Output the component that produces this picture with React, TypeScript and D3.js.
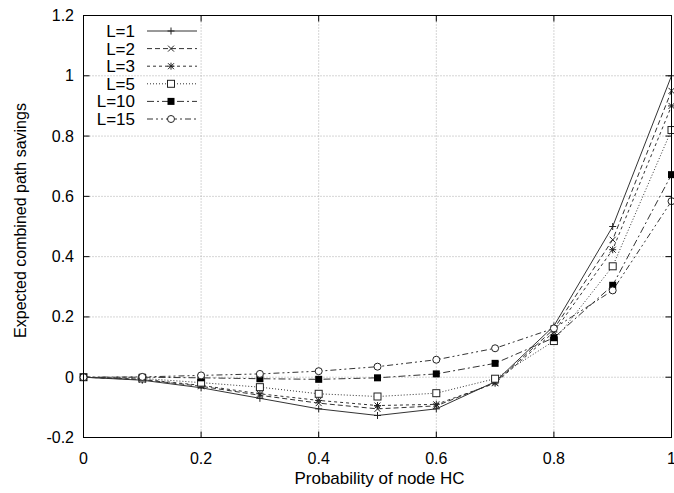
import React, { useRef, useEffect } from 'react';
import * as d3 from 'd3';

// probability values on x
const probs = [0, 0.1, 0.2, 0.3, 0.4, 0.5, 0.6, 0.7, 0.8, 0.9, 1.0];

const seriesNames = ['L=1', 'L=2', 'L=3', 'L=5', 'L=10', 'L=15'];

const savL1 = [0, -0.01, -0.035, -0.07, -0.105, -0.127, -0.105, -0.015, 0.17, 0.5, 1.0];
const savL2 = [0, -0.008, -0.03, -0.06, -0.086, -0.105, -0.095, -0.018, 0.16, 0.456, 0.95];
const savL3 = [0, -0.007, -0.027, -0.055, -0.077, -0.094, -0.09, -0.02, 0.15, 0.423, 0.9];
const savL5 = [0, -0.004, -0.018, -0.033, -0.055, -0.064, -0.053, -0.005, 0.12, 0.368, 0.82];
const savL10 = [0, 0, -0.002, -0.005, -0.007, -0.002, 0.011, 0.046, 0.131, 0.305, 0.672];
const savL15 = [0, 0.001, 0.006, 0.011, 0.02, 0.035, 0.058, 0.096, 0.162, 0.288, 0.584];

const xTicks = [0, 0.2, 0.4, 0.6, 0.8, 1];
const xTickLabels = ['0', '0.2', '0.4', '0.6', '0.8', '1'];
const yTicks = [-0.2, 0, 0.2, 0.4, 0.6, 0.8, 1, 1.2];
const yTickLabels = ['-0.2', '0', '0.2', '0.4', '0.6', '0.8', '1', '1.2'];

const dashes = ['none', '5,3', '3,3', '1,2', '7,3,2,3', '6,3,2,3,2,3'];
const markers = ['plus', 'cross', 'star', 'square', 'fsquare', 'circle'];

const App = () => {
  const svgRef = useRef<SVGSVGElement>(null);

  useEffect(() => {
    const svg = d3.select(svgRef.current);
    svg.selectAll('*').remove();

    const left = 83.5, right = 671.5, top = 15.5, bottom = 437.5;
    const font = 'Liberation Sans, Arial, sans-serif';

    const x = d3.scaleLinear().domain([0, 1]).range([left, right]);
    const y = d3.scaleLinear().domain([-0.2, 1.2]).range([bottom, top]);

    const g = svg.append('g');

    // grid
    g.selectAll('.gx')
      .data(xTicks.slice(1, -1))
      .enter()
      .append('line')
      .attr('x1', d => x(d)).attr('x2', d => x(d))
      .attr('y1', top).attr('y2', bottom)
      .attr('stroke', '#aaa').attr('stroke-width', 1)
      .attr('stroke-dasharray', '1,2');
    g.selectAll('.gy')
      .data(yTicks.slice(1, -1))
      .enter()
      .append('line')
      .attr('x1', left).attr('x2', right)
      .attr('y1', d => y(d)).attr('y2', d => y(d))
      .attr('stroke', '#aaa').attr('stroke-width', 1)
      .attr('stroke-dasharray', '1,2');

    // ticks (inward, mirrored)
    const tl = 6;
    xTicks.forEach(t => {
      g.append('line').attr('x1', x(t)).attr('x2', x(t)).attr('y1', bottom).attr('y2', bottom - tl).attr('stroke', '#000');
      g.append('line').attr('x1', x(t)).attr('x2', x(t)).attr('y1', top).attr('y2', top + tl).attr('stroke', '#000');
    });
    yTicks.forEach(t => {
      g.append('line').attr('x1', left).attr('x2', left + tl).attr('y1', y(t)).attr('y2', y(t)).attr('stroke', '#000');
      g.append('line').attr('x1', right).attr('x2', right - tl).attr('y1', y(t)).attr('y2', y(t)).attr('stroke', '#000');
    });

    // tick labels
    g.selectAll('.xl')
      .data(xTicks)
      .enter()
      .append('text')
      .attr('x', d => x(d))
      .attr('y', 464)
      .attr('text-anchor', 'middle')
      .attr('font-family', font)
      .attr('font-size', 16)
      .text((d, i) => xTickLabels[i]);
    g.selectAll('.yl')
      .data(yTicks)
      .enter()
      .append('text')
      .attr('x', 74)
      .attr('y', d => y(d) + 5.5)
      .attr('text-anchor', 'end')
      .attr('font-family', font)
      .attr('font-size', 16)
      .text((d, i) => yTickLabels[i]);

    // axis titles
    g.append('text')
      .attr('x', (left + right) / 2 + 2)
      .attr('y', 484)
      .attr('text-anchor', 'middle')
      .attr('font-family', font)
      .attr('font-size', 17)
      .text('Probability of node HC');
    g.append('text')
      .attr('transform', `translate(26,${(top + bottom) / 2 - 6}) rotate(-90)`)
      .attr('text-anchor', 'middle')
      .attr('font-family', font)
      .attr('font-size', 16)
      .text('Expected combined path savings');

    const drawMarker = (sel: any, kind: string, cx: number, cy: number) => {
      const s = 3.5;
      const st = '#222';
      if (kind === 'plus' || kind === 'star') {
        sel.append('path').attr('d', `M${cx - s},${cy}H${cx + s}M${cx},${cy - s}V${cy + s}`).attr('stroke', st).attr('fill', 'none');
      }
      if (kind === 'cross' || kind === 'star') {
        const c = 3;
        sel.append('path').attr('d', `M${cx - c},${cy - c}L${cx + c},${cy + c}M${cx - c},${cy + c}L${cx + c},${cy - c}`).attr('stroke', st).attr('fill', 'none');
      }
      if (kind === 'square') {
        sel.append('rect').attr('x', cx - 3.5).attr('y', cy - 3.5).attr('width', 7).attr('height', 7).attr('stroke', st).attr('fill', '#fff');
      }
      if (kind === 'fsquare') {
        sel.append('rect').attr('x', cx - 3.5).attr('y', cy - 3.5).attr('width', 7).attr('height', 7).attr('fill', '#000');
      }
      if (kind === 'circle') {
        sel.append('circle').attr('cx', cx).attr('cy', cy).attr('r', 3.5).attr('stroke', st).attr('fill', '#fff');
      }
    };

    const allSeries = [savL1, savL2, savL3, savL5, savL10, savL15];
    const line = d3.line<number>().x((d, i) => x(probs[i])).y(d => y(d));

    // clip to plot area
    svg.append('clipPath').attr('id', 'plotclip')
      .append('rect').attr('x', left - 6).attr('y', top - 6).attr('width', right - left + 12).attr('height', bottom - top + 12);

    const data = g.append('g').attr('clip-path', 'url(#plotclip)');
    allSeries.forEach((vals, k) => {
      data.append('path')
        .attr('d', line(vals))
        .attr('fill', 'none')
        .attr('stroke', '#333')
        .attr('stroke-width', 1)
        .attr('stroke-dasharray', dashes[k]);
    });
    allSeries.forEach((vals, k) => {
      vals.forEach((v, i) => drawMarker(data, markers[k], x(probs[i]), y(v)));
    });

    // border
    g.append('rect')
      .attr('x', left).attr('y', top)
      .attr('width', right - left).attr('height', bottom - top)
      .attr('fill', 'none').attr('stroke', '#000').attr('stroke-width', 1);

    // legend
    const lg = g.append('g');
    seriesNames.forEach((name, k) => {
      const ly = 31 + k * 17.6;
      lg.append('text')
        .attr('x', 135).attr('y', ly + 6)
        .attr('text-anchor', 'end')
        .attr('font-family', font)
        .attr('font-size', 17)
        .text(name);
      lg.append('line')
        .attr('x1', 147).attr('x2', 197)
        .attr('y1', ly).attr('y2', ly)
        .attr('stroke', '#333')
        .attr('stroke-dasharray', dashes[k]);
      drawMarker(lg, markers[k], 171, ly);
    });
  }, []);

  return (
    <svg
      ref={svgRef}
      width={674}
      height={493}
      style={{ position: 'absolute', left: 0, top: 0, background: '#fff' }}
    />
  );
};

export default App;
